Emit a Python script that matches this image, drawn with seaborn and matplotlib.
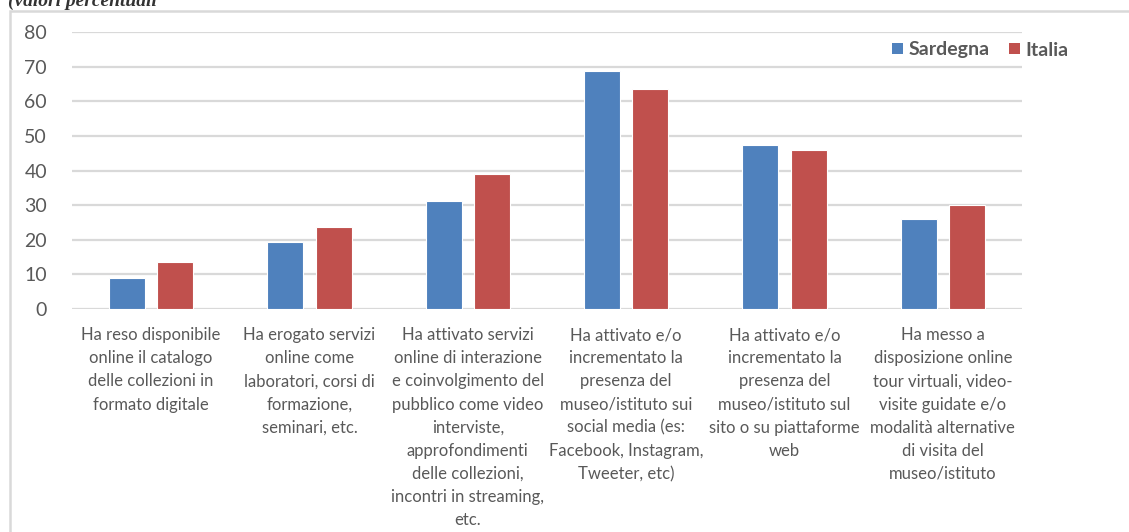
import matplotlib
matplotlib.use("Agg")
import matplotlib.pyplot as plt
import seaborn as sns
import pandas as pd
from matplotlib.patches import Rectangle, Patch

categories = [
    "Ha reso disponibile\nonline il catalogo\ndelle collezioni in\nformato digitale",
    "Ha erogato servizi\nonline come\nlaboratori, corsi di\nformazione,\nseminari, etc.",
    "Ha attivato servizi\nonline di interazione\ne coinvolgimento del\npubblico come video\ninterviste,\napprofondimenti\ndelle collezioni,\nincontri in streaming,\netc.",
    "Ha attivato e/o\nincrementato la\npresenza del\nmuseo/istituto sui\nsocial media (es:\nFacebook, Instagram,\nTweeter, etc)",
    "Ha attivato e/o\nincrementato la\npresenza del\nmuseo/istituto sul\nsito o su piattaforme\nweb",
    "Ha messo a\ndisposizione online\ntour virtuali, video-\nvisite guidate e/o\nmodalità alternative\ndi visita del\nmuseo/istituto",
]
sardegna = [8.9, 19.4, 31.2, 68.8, 47.4, 25.9]
italia = [13.7, 23.7, 39.0, 63.6, 45.9, 30.0]
series_names = ["Sardegna", "Italia"]
colors = ["#4F81BD", "#C0504D"]
yticks = [0, 10, 20, 30, 40, 50, 60, 70, 80]

df = pd.DataFrame({
    "cat": categories * 2,
    "serie": [series_names[0]] * 6 + [series_names[1]] * 6,
    "val": sardegna + italia,
})

sns.set_theme(style="white")
plt.rcParams["font.family"] = ["Lato", "DejaVu Sans"]

W, H = 1129, 532
fig = plt.figure(figsize=(W / 100, H / 100), dpi=100)
ax = fig.add_axes([72 / W, 1 - 309 / H, (1022 - 72) / W, (309 - 32) / H])

sns.barplot(data=df, x="cat", y="val", hue="serie", order=categories,
            hue_order=series_names, palette=colors, width=0.61, gap=0.25,
            edgecolor="white", linewidth=0.8, saturation=1, ax=ax, legend=False)

ax.set_ylim(0, 80)
ax.set_xlim(-0.5, 5.5)
ax.set_yticks(yticks)
ax.set_yticklabels([str(v) for v in yticks])
ax.yaxis.grid(True, color="#D9D9D9", linewidth=1.6)
ax.set_axisbelow(True)
for s in ax.spines.values():
    s.set_visible(False)
ax.tick_params(axis="both", length=0)
ax.tick_params(axis="y", pad=18, labelsize=14, labelcolor="#595959")
ax.tick_params(axis="x", pad=13, labelsize=12, labelcolor="#595959")
for t in ax.get_xticklabels():
    t.set_linespacing(1.55)
    t.set_ha("center")
ax.set_xlabel("")
ax.set_ylabel("")

# outer frame
fig.patches.append(Rectangle((10 / W, -0.05), 1.2, 1 - 11 / H + 0.05,
                             transform=fig.transFigure, fill=False,
                             edgecolor="#D9D9D9", linewidth=1.8))

# title (cut off at the top edge, as in the reference)
fig.text(8 / W, 1 - 6 / H, "(valori percentuali", family="Liberation Serif",
         style="italic", weight="bold", fontsize=14, color="#333333",
         va="baseline", ha="left")

handles = [Patch(facecolor=c, edgecolor="none") for c in colors]
leg = fig.legend(handles, series_names, loc="center left",
                 bbox_to_anchor=(892 / W, 1 - 50 / H), ncol=2, frameon=False,
                 handlelength=0.55, handleheight=0.55, handletextpad=0.3,
                 columnspacing=1.0, borderaxespad=0, borderpad=0,
                 prop={"weight": "bold", "size": 14})
for t in leg.get_texts():
    t.set_color("#595959")

fig.savefig("out.png", dpi=100)
